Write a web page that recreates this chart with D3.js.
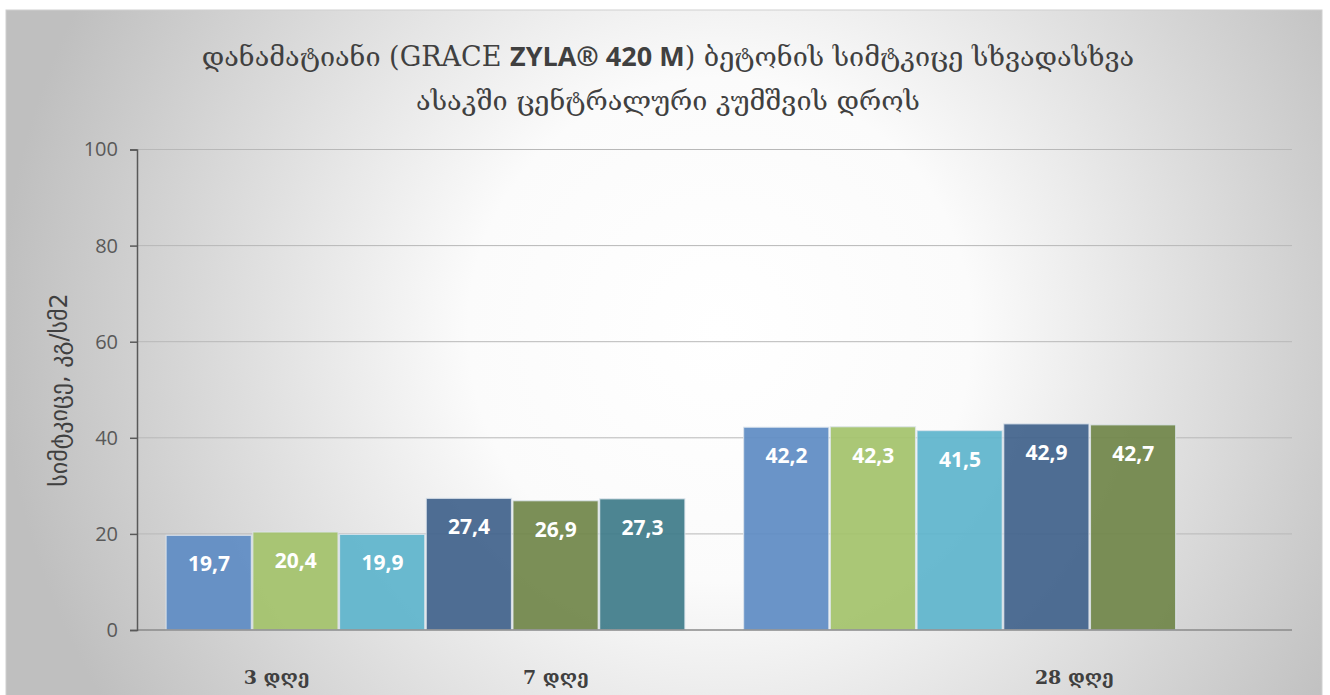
<!DOCTYPE html>
<html>
<head>
<meta charset="utf-8">
<script src="https://cdn.jsdelivr.net/npm/d3@7"></script>
<style>
  body { margin: 0; background: #fff; }
</style>
</head>
<body>
<div id="chart"></div>
<script>
// data
const groups = ["g1", "g2"];
const series = ["s1", "s2", "s3", "s4", "s5", "s6"];
const s1 = [19.7, 42.2];
const s2 = [20.4, 42.3];
const s3 = [19.9, 41.5];
const s4 = [27.4, 42.9];
const s5 = [26.9, 42.7];
const s6 = [27.3, null];
const yTicks = [0, 20, 40, 60, 80, 100];
const xLabels = ["3 დღე", "7 დღე", "28 დღე"];

const values = [s1, s2, s3, s4, s5, s6];
const colors = ["#5f8cc4", "#a4c36c", "#5fb5cc", "#42638c", "#71874a", "#3f7c8a"];

// category labels sit under series slots (group index, fractional slot)
const labelSlots = [[0, 1.28], [0, 4.5], [1, 3.82]];

let width = 1330, height = 695;
const svg = d3.select("#chart").append("svg")
    .attr("width", width)
    .attr("height", height);

const defs = svg.append("defs");
const grad = defs.append("radialGradient")
    .attr("id", "bg")
    .attr("gradientUnits", "userSpaceOnUse")
    .attr("cx", 720).attr("cy", 330).attr("r", 720);
grad.append("stop").attr("offset", "0%").attr("stop-color", "#ffffff");
grad.append("stop").attr("offset", "35%").attr("stop-color", "#fbfbfb");
grad.append("stop").attr("offset", "100%").attr("stop-color", "#bfbfbf");

svg.append("rect")
    .attr("x", 6).attr("y", 10)
    .attr("width", 1316).attr("height", 700)
    .attr("fill", "url(#bg)")
    .attr("stroke", "#d0d0d0")
    .attr("stroke-width", 1);

const plotL = 137, plotR = 1292, plotT = 149.5, plotB = 630;

const y = d3.scaleLinear().domain([0, 100]).range([plotB, plotT]);
const x0 = d3.scaleBand().domain(groups).range([plotL, plotR]);
const x1 = d3.scaleBand().domain(series).range([0, x0.bandwidth()]).paddingOuter(0.33);

// gridlines
svg.append("g")
    .selectAll("line")
    .data(yTicks.filter(d => d > 0))
    .enter().append("line")
    .attr("x1", plotL).attr("x2", plotR)
    .attr("y1", d => y(d)).attr("y2", d => y(d))
    .attr("stroke", "#b8b8b8")
    .attr("stroke-width", 1);

// bars
const bars = svg.append("g");
groups.forEach((g, gi) => {
    series.forEach((s, si) => {
        const v = values[si][gi];
        if (v == null) return;
        const bx = x0(g) + x1(s);
        bars.append("rect")
            .attr("x", bx + 0.5)
            .attr("y", y(v))
            .attr("width", x1.bandwidth() - 1.5)
            .attr("height", y(0) - y(v))
            .attr("fill", colors[si])
            .attr("fill-opacity", 0.93)
            .attr("stroke", "#dfe6ee")
            .attr("stroke-opacity", 0.8)
            .attr("stroke-width", 1.2);
        bars.append("text")
            .attr("x", bx + x1.bandwidth() / 2)
            .attr("y", y(v) + 36)
            .attr("text-anchor", "middle")
            .attr("font-family", "'Open Sans', sans-serif")
            .attr("font-weight", "bold")
            .attr("font-size", "21px")
            .attr("fill", "#ffffff")
            .text(String(v).replace(".", ","));
    });
});

// baseline
svg.append("line")
    .attr("x1", plotL).attr("x2", plotR)
    .attr("y1", y(0)).attr("y2", y(0))
    .attr("stroke", "#8a8a8a")
    .attr("stroke-width", 1.5);

// y axis
const yAxis = d3.axisLeft(y).tickValues(yTicks).tickSize(7).tickPadding(12);
const ya = svg.append("g")
    .attr("transform", "translate(" + plotL + ",0)")
    .call(yAxis);
ya.select(".domain").attr("stroke", "#595959").attr("stroke-width", 1.5);
ya.selectAll(".tick line").attr("stroke", "#595959").attr("stroke-width", 1.5);
ya.selectAll(".tick text")
    .attr("font-family", "'Open Sans', sans-serif")
    .attr("font-size", "20px")
    .attr("fill", "#595959");

// y title
svg.append("text")
    .attr("transform", "translate(67,390) rotate(-90)")
    .attr("text-anchor", "middle")
    .attr("font-family", "'DejaVu Sans', sans-serif")
    .attr("font-size", "24px")
    .attr("fill", "#404040")
    .text("სიმტკიცე, კგ/სმ2");

// x labels
svg.append("g")
    .selectAll("text")
    .data(xLabels)
    .enter().append("text")
    .attr("x", (d, i) => x0(groups[labelSlots[i][0]]) + x1.paddingOuter() * x1.step() + labelSlots[i][1] * x1.step())
    .attr("y", 684)
    .attr("text-anchor", "middle")
    .attr("font-family", "'DejaVu Serif', serif")
    .attr("font-weight", "bold")
    .attr("font-size", "19px")
    .attr("fill", "#404040")
    .text(d => d);

// title
const title = svg.append("text")
    .attr("text-anchor", "middle")
    .attr("font-family", "'DejaVu Serif', serif")
    .attr("font-size", "27px")
    .attr("fill", "#404040");
const t1 = title.append("tspan").attr("x", 668).attr("y", 66);
t1.append("tspan").text("დანამატიანი (GRACE ");
t1.append("tspan").attr("font-family", "'Open Sans', sans-serif").attr("font-weight", "bold").text("ZYLA® 420 M");
t1.append("tspan").text(") ბეტონის სიმტკიცე სხვადასხვა");
title.append("tspan").attr("x", 668).attr("y", 110).text("ასაკში ცენტრალური კუმშვის დროს");
</script>
</body>
</html>
